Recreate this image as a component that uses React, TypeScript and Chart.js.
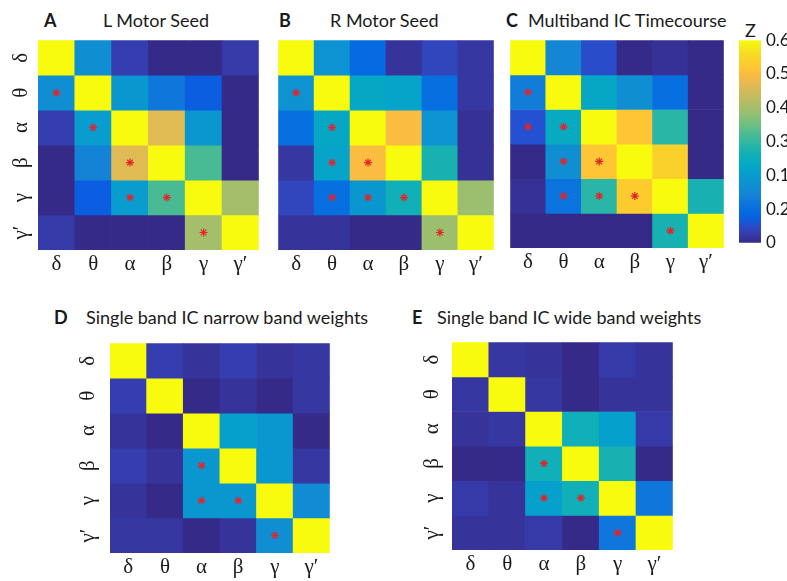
import React, { useEffect, useRef } from 'react';
import { Chart, registerables } from 'chart.js';
Chart.register(...registerables);

// ---------- data ----------
const bands = ['δ', 'θ', 'α', 'β', 'γ', 'γ′'];
const zMin = 0;
const zMax = 0.6;
const colorbarTicks = [0, 0.1, 0.2, 0.3, 0.4, 0.5, 0.6];
const colorbarTickLabels = ['0', '0.2', '0.1', '0.3', '0.4', '0.5', '0.6'];

const lMotorSeed = [
  [0.60, 0.17, 0.03, 0.00, 0.00, 0.025],
  [0.17, 0.60, 0.19, 0.12, 0.07, 0.00],
  [0.03, 0.20, 0.60, 0.465, 0.19, 0.00],
  [0.00, 0.14, 0.465, 0.60, 0.32, 0.00],
  [0.00, 0.07, 0.20, 0.32, 0.60, 0.40],
  [0.025, 0.00, 0.00, 0.00, 0.40, 0.60],
];
const lMotorSig = [[1, 0], [2, 1], [3, 2], [4, 2], [4, 3], [5, 4]];

const rMotorSeed = [
  [0.60, 0.18, 0.09, 0.015, 0.04, 0.02],
  [0.18, 0.60, 0.23, 0.22, 0.10, 0.02],
  [0.10, 0.23, 0.60, 0.50, 0.18, 0.01],
  [0.02, 0.22, 0.50, 0.60, 0.27, 0.01],
  [0.04, 0.10, 0.19, 0.26, 0.60, 0.39],
  [0.015, 0.015, 0.00, 0.00, 0.39, 0.60],
];
const rMotorSig = [[1, 0], [2, 1], [3, 1], [3, 2], [4, 1], [4, 2], [4, 3], [5, 4]];

const multibandIC = [
  [0.60, 0.15, 0.05, 0.00, 0.01, 0.00],
  [0.13, 0.60, 0.23, 0.17, 0.10, 0.00],
  [0.055, 0.24, 0.60, 0.52, 0.29, 0.00],
  [0.00, 0.17, 0.52, 0.60, 0.54, 0.00],
  [0.01, 0.11, 0.29, 0.53, 0.60, 0.27],
  [0.00, 0.00, 0.00, 0.00, 0.27, 0.60],
];
const multibandSig = [[1, 0], [2, 0], [2, 1], [3, 1], [3, 2], [4, 1], [4, 2], [4, 3], [5, 4]];

const narrowBand = [
  [0.60, 0.03, 0.015, 0.03, 0.015, 0.02],
  [0.03, 0.60, 0.00, 0.015, 0.00, 0.02],
  [0.015, 0.00, 0.60, 0.21, 0.19, 0.00],
  [0.03, 0.015, 0.19, 0.60, 0.19, 0.02],
  [0.015, 0.00, 0.19, 0.19, 0.60, 0.16],
  [0.02, 0.02, 0.00, 0.015, 0.17, 0.60],
];
const narrowSig = [[3, 2], [4, 2], [4, 3], [5, 4]];

const wideBand = [
  [0.60, 0.02, 0.015, 0.00, 0.025, 0.015],
  [0.02, 0.60, 0.02, 0.00, 0.015, 0.015],
  [0.015, 0.02, 0.60, 0.26, 0.21, 0.025],
  [0.00, 0.00, 0.26, 0.60, 0.27, 0.00],
  [0.025, 0.015, 0.21, 0.26, 0.60, 0.12],
  [0.015, 0.015, 0.025, 0.00, 0.12, 0.60],
];
const wideSig = [[3, 2], [4, 2], [4, 3], [5, 4]];

// ---------- parula colormap ----------
const parula = [
  [0.2081, 0.1663, 0.5292], [0.2116, 0.1898, 0.5777], [0.2123, 0.2138, 0.6270],
  [0.2081, 0.2386, 0.6771], [0.1959, 0.2645, 0.7279], [0.1707, 0.2919, 0.7792],
  [0.1253, 0.3242, 0.8303], [0.0591, 0.3598, 0.8683], [0.0117, 0.3875, 0.8820],
  [0.0329, 0.4430, 0.8720], [0.0629, 0.4737, 0.8554], [0.0793, 0.5200, 0.8312],
  [0.0488, 0.5772, 0.8228], [0.0239, 0.6287, 0.8038], [0.0228, 0.6535, 0.7768],
  [0.0384, 0.6743, 0.7436], [0.0843, 0.6928, 0.7062], [0.1453, 0.7098, 0.6646],
  [0.2178, 0.7250, 0.6193], [0.3022, 0.7376, 0.5712], [0.3953, 0.7459, 0.5244],
  [0.4871, 0.7491, 0.4840], [0.5709, 0.7485, 0.4494], [0.6473, 0.7456, 0.4188],
  [0.7184, 0.7411, 0.3905], [0.7858, 0.7356, 0.3633], [0.8507, 0.7299, 0.3360],
  [0.9139, 0.7258, 0.3063], [0.9739, 0.7314, 0.2666], [0.9990, 0.7653, 0.2164],
  [0.9880, 0.8066, 0.1794], [0.9697, 0.8481, 0.1475], [0.9589, 0.8949, 0.1132],
  [0.9661, 0.9514, 0.0755], [0.9763, 0.9831, 0.0538],
];
const parulaIdx = [0, 1, 2, 3, 4, 5, 6, 7, 8, 11, 13, 15, 19, 22, 24, 26, 28, 30, 32, 34, 36, 38, 40, 42, 44, 46, 48, 50, 52, 54, 56, 58, 60, 62, 63];
const parulaPos = parulaIdx.map((idx) => idx / 63);

function parulaColor(t: number): string {
  t = Math.max(0, Math.min(1, t));
  let i = 0;
  while (i < parulaPos.length - 2 && t > parulaPos[i + 1]) i++;
  const a = parulaPos[i], b = parulaPos[i + 1];
  const f = b > a ? (t - a) / (b - a) : 0;
  const c = parula[i].map((v, k) => Math.round(255 * (v + (parula[i + 1][k] - v) * f)));
  return `rgb(${c[0]},${c[1]},${c[2]})`;
}
const valueColor = (v: number) => parulaColor((v - zMin) / (zMax - zMin));

const serifFamily = '"Liberation Serif", "DejaVu Serif", serif';
const bandFontSize = 21;

// ---------- plugins ----------
const yLabelPlugin = {
  id: 'yBandLabels',
  afterDraw(chart: any, _args: any, opts: any) {
    if (!opts || !opts.show) return;
    const { ctx, chartArea, scales } = chart;
    ctx.save();
    ctx.font = `${bandFontSize}px ${serifFamily}`;
    ctx.fillStyle = '#1a1a1a';
    ctx.textAlign = 'center';
    ctx.textBaseline = 'middle';
    bands.forEach((b, i) => {
      const y = scales.y.getPixelForValue(i + 0.5);
      ctx.save();
      ctx.translate(chartArea.left - opts.offset, y);
      ctx.rotate(-Math.PI / 2);
      ctx.fillText(b, 0, 0);
      ctx.restore();
    });
    ctx.restore();
  },
};

// ---------- components ----------
type HeatProps = {
  values: number[][];
  sig: number[][];
  x: number; y: number; w: number; h: number;
  showY: boolean;
  yOffset?: number;
};

function Heatmap({ values, sig, x, y, w, h, showY, yOffset = 18 }: HeatProps) {
  const ref = useRef<HTMLCanvasElement>(null);
  const padL = showY ? 36 : 0;
  const padB = 34;
  useEffect(() => {
    if (!ref.current) return;
    const datasets: any[] = values.map((row, r) => ({
      type: 'bar',
      data: row.map(() => [r, r + 1]),
      backgroundColor: row.map(valueColor),
      borderWidth: 0,
      grouped: false,
      barPercentage: 1,
      categoryPercentage: 1,
      order: 2,
    }));
    datasets.push({
      type: 'scatter',
      data: sig.map(([r, c]) => ({ x: bands[c], y: r + 0.5 })),
      pointStyle: 'star',
      radius: 4,
      borderColor: '#e3242b',
      backgroundColor: '#e3242b',
      borderWidth: 1.2,
      order: 0,
    });
    const chart = new Chart(ref.current, {
      type: 'bar',
      data: { labels: bands, datasets },
      plugins: [yLabelPlugin],
      options: {
        animation: false,
        responsive: false,
        maintainAspectRatio: false,
        layout: { padding: { left: padL, top: 0, right: 0, bottom: 0 } },
        plugins: {
          legend: { display: false },
          tooltip: { enabled: false },
          title: { display: false },
          yBandLabels: { show: showY, offset: yOffset },
        } as any,
        scales: {
          x: {
            type: 'category',
            offset: true,
            grid: { display: false, drawTicks: false },
            border: { display: false },
            ticks: {
              font: { family: serifFamily, size: bandFontSize },
              color: '#1a1a1a',
              padding: 2,
              maxRotation: 0,
              autoSkip: false,
            },
            afterFit: (s: any) => { s.height = padB; },
          },
          y: { type: 'linear', display: false, min: 0, max: 6, reverse: true },
        },
      } as any,
    });
    return () => chart.destroy();
  }, []);
  return (
    <div style={{ position: 'absolute', left: x - padL, top: y, width: w + padL, height: h + padB }}>
      <canvas ref={ref} width={w + padL} height={h + padB} style={{ width: w + padL, height: h + padB }} />
    </div>
  );
}

function Colorbar({ x, y, w, h }: { x: number; y: number; w: number; h: number }) {
  const ref = useRef<HTMLCanvasElement>(null);
  const padT = 10;
  const labelW = 28;
  useEffect(() => {
    if (!ref.current) return;
    const chart = new Chart(ref.current, {
      type: 'bar',
      data: {
        labels: ['Z'],
        datasets: [{
          data: [[zMin, zMax]],
          borderWidth: 0,
          barPercentage: 1,
          categoryPercentage: 1,
          backgroundColor: (ctx: any) => {
            const { chart } = ctx;
            const area = chart.chartArea;
            if (!area) return '#000';
            const g = chart.ctx.createLinearGradient(0, area.bottom, 0, area.top);
            for (let i = 0; i <= 60; i++) g.addColorStop(i / 60, parulaColor(i / 60));
            return g;
          },
        }],
      },
      options: {
        animation: false,
        responsive: false,
        maintainAspectRatio: false,
        layout: { padding: { top: padT, bottom: padT, left: 0, right: 0 } },
        plugins: { legend: { display: false }, tooltip: { enabled: false } },
        scales: {
          x: { display: false, offset: true },
          y: {
            position: 'right',
            min: zMin,
            max: zMax,
            grid: { display: false, drawTicks: false },
            border: { display: false },
            afterBuildTicks: (s: any) => { s.ticks = colorbarTicks.map((v) => ({ value: v })); },
            ticks: {
              callback: (_v: any, i: number) => colorbarTickLabels[i],
              font: { family: 'Lato, "Open Sans", sans-serif', size: 17 },
              color: '#1a1a1a',
              padding: 5,
            },
            afterFit: (s: any) => { s.width = labelW; },
          },
        },
      } as any,
    });
    return () => chart.destroy();
  }, []);
  const cw = w + labelW;
  const ch = h + padT * 2;
  return (
    <div style={{ position: 'absolute', left: x, top: y - padT, width: cw, height: ch }}>
      <canvas ref={ref} width={cw} height={ch} style={{ width: cw, height: ch }} />
    </div>
  );
}

const titleFont = 'Lato, "Open Sans", sans-serif';

function Label({ x, y, text, bold, size }: { x: number; y: number; text: string; bold?: boolean; size: number }) {
  return (
    <div style={{
      position: 'absolute', left: x, top: y - 12, height: 24, lineHeight: '24px',
      fontFamily: titleFont, fontSize: size, fontWeight: bold ? 700 : 400, color: '#1a1a1a', whiteSpace: 'nowrap',
    }}>{text}</div>
  );
}

export default function App() {
  return (
    <div style={{ position: 'absolute', left: 0, top: 0, width: 787, height: 581, background: '#fff', overflow: 'hidden' }}>
      <Label x={44} y={20} text="A" bold size={18} />
      <Label x={103} y={20} text="L Motor Seed" size={18} />
      <Label x={279} y={20} text="B" bold size={18} />
      <Label x={330} y={20} text="R Motor Seed" size={18} />
      <Label x={506} y={20} text="C" bold size={18} />
      <Label x={528} y={20} text="Multiband IC Timecourse" size={18} />
      <Label x={745} y={30} text="Z" size={18} />
      <Label x={54} y={317} text="D" bold size={18} />
      <Label x={86} y={317} text="Single band IC narrow band weights" size={18} />
      <Label x={412} y={317} text="E" bold size={18} />
      <Label x={437} y={317} text="Single band IC wide band weights" size={18} />

      <Heatmap values={lMotorSeed} sig={lMotorSig} x={38} y={35} w={226} h={215} showY yOffset={17} />
      <Heatmap values={rMotorSeed} sig={rMotorSig} x={273} y={35} w={226} h={215} showY={false} />
      <Heatmap values={multibandIC} sig={multibandSig} x={505} y={35} w={224} h={213} showY={false} />
      <Heatmap values={narrowBand} sig={narrowSig} x={110} y={338} w={225} h={215} showY yOffset={22} />
      <Heatmap values={wideBand} sig={wideSig} x={452} y={337} w={226} h={213} showY yOffset={20} />
      <Colorbar x={739} y={35} w={22} h={213} />
    </div>
  );
}
